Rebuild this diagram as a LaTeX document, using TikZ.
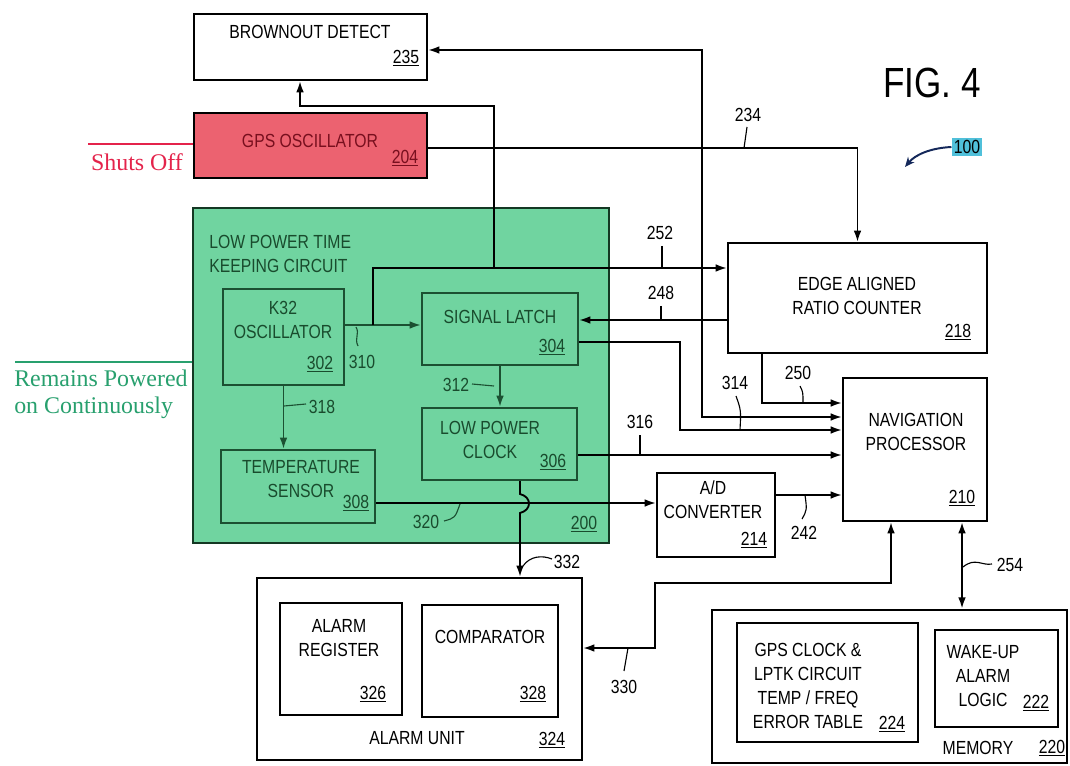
\documentclass[tikz,border=0pt]{standalone}
\usepackage{fontspec}
\setmainfont{Liberation Sans}
\newfontfamily\lab[FakeStretch=0.83]{Liberation Sans}
\newfontfamily\serifl{Liberation Serif}
\usetikzlibrary{arrows.meta,fit}
\definecolor{gfill}{RGB}{112,212,160}
\definecolor{gdark}{RGB}{28,80,50}
\definecolor{gtxtc}{RGB}{25,75,45}
\definecolor{rfill}{RGB}{236,98,112}
\definecolor{rtxtc}{RGB}{120,15,30}
\definecolor{rlab}{RGB}{228,35,75}
\definecolor{glab}{RGB}{40,160,110}
\definecolor{cyanh}{RGB}{80,192,218}
\definecolor{navy}{RGB}{20,40,90}
\begin{document}
\begin{tikzpicture}[x=0.025cm,y=-0.025cm,
  box/.style={draw=black, line width=1.6pt, inner sep=0pt, rectangle},
  gbox/.style={box, draw=gdark, fill=gfill},
  txt/.style={font=\lab\fontsize{13.5}{17}\selectfont, inner sep=0pt, align=center},
  gtxt/.style={txt, text=gtxtc},
  wire/.style={line width=1.3pt, draw=black},
  arr/.style={wire, -{Latex[length=8pt,width=5.5pt]}},
  darr/.style={wire, {Latex[length=8pt,width=5.5pt]}-{Latex[length=8pt,width=5.5pt]}},
  tick/.style={line width=0.8pt},
]
\useasboundingbox (0,0) rectangle (1070,766);
\fill[white] (0,0) rectangle (1070,766);

% ---- boxes ----
\node[box, fill=white, fit={(194,14) (427,80)}] (brown) {};
\node[txt] (browntx) at (310,32) {BROWNOUT DETECT};
\node[txt] (brownn) at (406,58) {\underline{235}};

\node[box, fill=rfill, fit={(194,113) (427,178)}] (gps) {};
\node[txt, text=rtxtc] (gpstx) at (310,141) {GPS OSCILLATOR};
\node[txt, text=rtxtc] (gpsn) at (405,158) {\underline{204}};

\node[box, draw=gdark!70!black, fill=gfill, fit={(193,208) (609,543)}] (lptk) {};
\node[gtxt, align=left, anchor=west] (lptktx) at (209,254) {LOW POWER TIME\\KEEPING CIRCUIT};
\node[gtxt] (lptkn) at (584,524) {\underline{200}};

\node[gbox, fit={(223,289) (344,385)}] (k32) {};
\node[gtxt] (k32tx) at (283,320) {K32\\OSCILLATOR};
\node[gtxt] (k32n) at (320,364) {\underline{302}};

\node[gbox, fit={(422,293) (578,365)}] (latch) {};
\node[gtxt] (latchtx) at (500,317) {SIGNAL LATCH};
\node[gtxt] (latchn) at (552,347) {\underline{304}};

\node[gbox, fit={(422,408) (577,480)}] (lpc) {};
\node[gtxt] (lpctx) at (490,440) {LOW POWER\\CLOCK};
\node[gtxt] (lpcn) at (553,462) {\underline{306}};

\node[gbox, fit={(221,450) (375,523)}] (temp) {};
\node[gtxt] (temptx) at (301,479) {TEMPERATURE\\SENSOR};
\node[gtxt] (tempn) at (356,503) {\underline{308}};

\node[box, fill=white, fit={(728,243) (987,353)}] (erc) {};
\node[txt] (erctx) at (857,296) {EDGE ALIGNED\\RATIO COUNTER};
\node[txt] (ercn) at (958,332) {\underline{218}};

\node[box, fill=white, fit={(843,378) (987,521)}] (nav) {};
\node[txt] (navtx) at (916,432) {NAVIGATION\\PROCESSOR};
\node[txt] (navn) at (962,498) {\underline{210}};

\node[box, fill=white, fit={(657,473) (775,557)}] (ad) {};
\node[txt] (adtx) at (713,500) {A/D\\CONVERTER};
\node[txt] (adn) at (754,540) {\underline{214}};

\node[box, fill=white, fit={(257,578) (582,760)}] (alarm) {};
\node[box, fit={(280,603) (402,715)}] (areg) {};
\node[txt] (aregtx) at (339,638) {ALARM\\REGISTER};
\node[txt] (aregn) at (373,694) {\underline{326}};
\node[box, fit={(422,605) (558,717)}] (comp) {};
\node[txt] (comptx) at (490,637) {COMPARATOR};
\node[txt] (compn) at (533,694) {\underline{328}};
\node[txt] (alarmtx) at (417,738) {ALARM UNIT};
\node[txt] (alarmn) at (552,740) {\underline{324}};

\node[box, line width=2pt, fill=white, fit={(712,610) (1067,763)}] (mem) {};
\node[box, fit={(737,623) (918,742)}] (table) {};
\node[txt] (tabletx) at (808,686) {GPS CLOCK \&\\LPTK CIRCUIT\\TEMP / FREQ\\ERROR TABLE};
\node[txt] (tablen) at (892,724) {\underline{224}};
\node[box, fit={(935,630) (1058,727)}] (wake) {};
\node[txt] (waketx) at (983,676) {WAKE-UP\\ALARM\\LOGIC};
\node[txt] (waken) at (1036,703) {\underline{222}};
\node[txt] (memtx) at (978,748) {MEMORY};
\node[txt] (memn) at (1052,748) {\underline{220}};

% ---- connectors ----
\coordinate (j252) at (494,268);
\coordinate (jbr) at (300,106);
\coordinate (k32o) at (344,325);
\coordinate (br310) at (373,325);
\draw[arr] (j252) -- (j252 |- jbr) -- (jbr) -- (jbr |- brown.south);
\draw[arr, draw=gdark] (k32o) -- (k32o -| latch.west);
\draw[arr] (br310) |- (j252 -| erc.west);
\draw[arr] (erc.west |- 0,320) -- (latch.east |- 0,320);
\draw[arr] (latch.east |- 0,342) -- (680,342) -- (680,430) -- (nav.west |- 0,430);
\draw[darr] (brown.east |- 0,50) -- (702,50) -- (702,417) -- (nav.west |- 0,417);
\draw[arr] (erc.south -| 762,0) -- (762,403) -- (nav.west |- 0,403);
\draw[arr] (gps.east |- 0,148) -| (erc.north);
\draw[arr] (lpc.east |- 0,455) -- (nav.west |- 0,455);
\draw[arr] (temp.east |- 0,503) -- (ad.west |- 0,503);
\draw[arr] (ad.east |- 0,495) -- (nav.west |- 0,495);
\draw[arr, draw=gdark] (latch.south) -- (latch.south |- lpc.north);
\draw[arr, draw=gdark] (k32.south) -- (k32.south |- temp.north);
\draw[arr] (lpc.south -| 520,0) -- (520,494) .. controls (532,497) and (532,510) .. (520,513) -- (alarm.north -| 520,0);
\draw[darr] (alarm.east |- 0,648) -- (655,648) -- (655,583) -- (891,583) -- (nav.south -| 891,0);
\draw[darr] (nav.south -| 962,0) -- (mem.north -| 962,0);

% ---- reference numerals ----
\node[txt] (l234) at (748,115) {234};
\draw[tick] (747,127) -- (744,148);
\node[txt] (l252) at (660,233) {252};
\draw[tick] (662,246) -- (662,268);
\node[txt] (l248) at (661,293) {248};
\draw[tick] (661,306) -- (661,320);
\node[txt] (l250) at (798,373) {250};
\draw[tick] (800,386) .. controls (803,392) .. (803,403);
\node[txt] (l314) at (735,383) {314};
\draw[tick] (736,396) .. controls (741,410) .. (740,430);
\node[txt] (l316) at (640,422) {316};
\draw[tick] (640,435) -- (640,455);
\node[txt] (l242) at (804,533) {242};
\draw[tick] (802,519) .. controls (807,510) .. (805,495);
\node[gtxt] (l310) at (362,362) {310};
\draw[tick, draw=gdark] (356,327) .. controls (360,334) and (354,338) .. (358,346);
\node[gtxt] (l312) at (456,385) {312};
\draw[tick, draw=gdark] (472,384) -- (494,386);
\node[gtxt] (l318) at (322,407) {318};
\draw[tick, draw=gdark] (284,406) -- (306,404);
\node[gtxt] (l320) at (426,522) {320};
\draw[tick, draw=gdark] (444,521) .. controls (455,518) .. (460,504);
\node[txt] (l332) at (567,562) {332};
\draw[tick] (523,566) .. controls (530,556) and (542,555) .. (552,559);
\node[txt] (l330) at (624,687) {330};
\draw[tick] (624,671) -- (628,648);
\node[txt] (l254) at (1010,565) {254};
\draw[tick] (963,567) .. controls (975,557) and (982,566) .. (992,564);

% ---- figure title and pointer ----
\node[font=\lab\fontsize{30}{36}\selectfont, inner sep=0pt] (fig) at (932,83) {FIG. 4};
\node[fill=cyanh, font=\lab\fontsize{13.5}{16}\selectfont, inner sep=1.5pt] (h100) at (967,147) {100};
\coordinate (p100) at (905,167);
\draw[line width=1.4pt, draw=navy, -{Stealth[length=7pt,width=6pt]}] (h100.west) .. controls (930,148) and (915,155) .. (p100);

% ---- power annotations ----
\node[font=\serifl\fontsize{17}{19}\selectfont, text=rlab, inner sep=0pt] (shuts) at (137,162) {Shuts Off};
\draw[line width=1.4pt, draw=rlab] (88,144) -- (gps.west |- 0,144);
\node[font=\serifl\fontsize{17}{19}\selectfont, text=glab, inner sep=0pt, align=left, anchor=west] (remains) at (14,394) {Remains Powered\\on Continuously};
\draw[line width=1.4pt, draw=glab] (15,362) -- (lptk.west |- 0,362);
\end{tikzpicture}
\end{document}
